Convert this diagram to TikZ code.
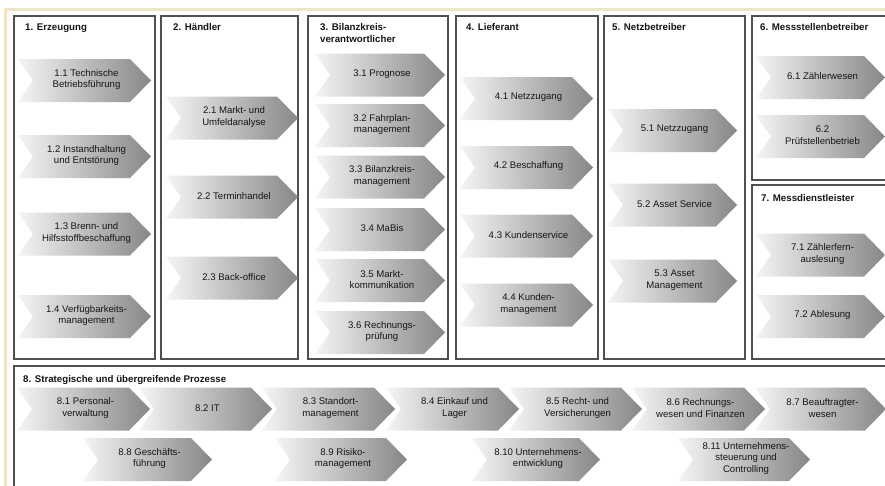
\documentclass[tikz,border=0pt]{standalone}
\usepackage{fontspec}
\setmainfont{Liberation Sans}
\definecolor{cream}{HTML}{EFE5C3}
\definecolor{frame}{HTML}{505050}
\definecolor{txt}{HTML}{151515}
\tikzset{
  panel/.style={draw=frame, line width=1.4pt},
  chevfill/.style={left color=white!96!black, right color=black!47, draw=none},
  lbl/.style={align=center, font=\fontsize{9.6}{11.8}\selectfont, text=txt, inner sep=0pt},
  ttl/.style={anchor=base west, font=\bfseries\fontsize{9.7}{11.5}\selectfont, text=txt, inner sep=0pt},
}
\newcommand{\chev}[5]{%
  \path[chevfill] ({#2},{#4-21.5}) -- ({#3-21},{#4-21.5}) -- ({#3},{#4}) -- ({#3-21},{#4+21.5}) -- ({#2},{#4+21.5}) -- ({#2+15},{#4}) -- cycle;
  \node[lbl] (#1) at ({(#2+#3)/2+2},{#4-1}) {#5};
}
\begin{document}
\begin{tikzpicture}[x=1pt,y=-1pt]
\useasboundingbox (0,0) rectangle (885,485);
\clip (0,0) rectangle (885,485);
\fill[white] (0,0) rectangle (885,485);
% cream frame
\draw[cream, line width=3pt] (5.5,500) -- (5.5,9.5) -- (900,9.5);
% panels
\draw[panel] (14,16) rectangle (155,359);
\draw[panel] (161,16) rectangle (298,359);
\draw[panel] (308,16) rectangle (448,359);
\draw[panel] (456,16) rectangle (598,359);
\draw[panel] (604,16) rectangle (745,359);
\draw[panel] (752,16) rectangle (900,180);
\draw[panel] (752,185) rectangle (900,359);
\draw[panel] (14,366) rectangle (900,500);
% titles
\node[ttl] (t1) at (25,30.5) {1. Erzeugung};
\node[ttl] (t2) at (173,30.5) {2. Händler};
\node[ttl] (t3) at (320,30.5) {3. Bilanzkreis-};
\node[ttl] (t3b) at (320,42) {verantwortlicher};
\node[ttl] (t4) at (466,30.5) {4. Lieferant};
\node[ttl] (t5) at (612,30.5) {5. Netzbetreiber};
\node[ttl] (t6) at (760,30.5) {6. Messstellenbetreiber};
\node[ttl] (t7) at (761,201.5) {7. Messdienstleister};
\node[ttl] (t8) at (23,382.5) {8. Strategische und übergreifende Prozesse};
% box 1
\chev{a11}{18}{151}{80.5}{1.1 Technische\\Betriebsführung}
\chev{a12}{18}{151}{156.5}{1.2 Instandhaltung\\und Entstörung}
\chev{a13}{18}{151}{234}{1.3 Brenn- und\\Hilfsstoffbeschaffung}
\chev{a14}{18}{151}{316.5}{1.4 Verfügbarkeits-\\management}
% box 2
\chev{a21}{166}{298}{118}{2.1 Markt- und\\Umfeldanalyse}
\chev{a22}{166}{298}{197}{2.2 Terminhandel}
\chev{a23}{166}{298}{278}{2.3 Back-office}
% box 3
\chev{a31}{315}{445}{75}{3.1 Prognose}
\chev{a32}{315}{445}{125.5}{3.2 Fahrplan-\\management}
\chev{a33}{315}{445}{177}{3.3 Bilanzkreis-\\management}
\chev{a34}{315}{445}{229.5}{3.4 MaBis}
\chev{a35}{315}{445}{280.5}{3.5 Markt-\\kommunikation}
\chev{a36}{315}{445}{332.5}{3.6 Rechnungs-\\prüfung}
% box 4
\chev{a41}{460}{593}{98.5}{4.1 Netzzugang}
\chev{a42}{460}{593}{167.5}{4.2 Beschaffung}
\chev{a43}{460}{593}{236}{4.3 Kundenservice}
\chev{a44}{460}{593}{305}{4.4 Kunden-\\management}
% box 5
\chev{a51}{608}{737}{130.5}{5.1 Netzzugang}
\chev{a52}{608}{737}{205}{5.2 Asset Service}
\chev{a53}{608}{737}{281}{5.3 Asset\\Management}
% box 6
\chev{a61}{756}{885}{77.5}{6.1 Zählerwesen}
\chev{a62}{756}{885}{136.5}{6.2\\Prüfstellenbetrieb}
% box 7
\chev{a71}{756}{885}{255}{7.1 Zählerfern-\\auslesung}
\chev{a72}{756}{885}{316.5}{7.2 Ablesung}
% box 8 row 1
\chev{a81}{17}{150}{409}{8.1 Personal-\\verwaltung}
\chev{a82}{139}{272}{409}{8.2 IT}
\chev{a83}{262}{395}{409}{8.3 Standort-\\management}
\chev{a84}{386}{519}{409}{8.4 Einkauf und\\Lager}
\chev{a85}{509}{642}{409}{8.5 Recht- und\\Versicherungen}
\chev{a86}{632}{765}{409}{8.6 Rechnungs-\\wesen und Finanzen}
\chev{a87}{755}{886}{409}{8.7 Beauftragter-\\wesen}
% box 8 row 2
\chev{a88}{83}{212}{459.5}{8.8 Geschäfts-\\führung}
\chev{a89}{275}{407}{459.5}{8.9 Risiko-\\management}
\chev{a810}{472}{600}{459.5}{8.10 Unternehmens-\\entwicklung}
\chev{a811}{678}{810}{459.5}{8.11 Unternehmens-\\steuerung und\\Controlling}
\end{tikzpicture}
\end{document}
